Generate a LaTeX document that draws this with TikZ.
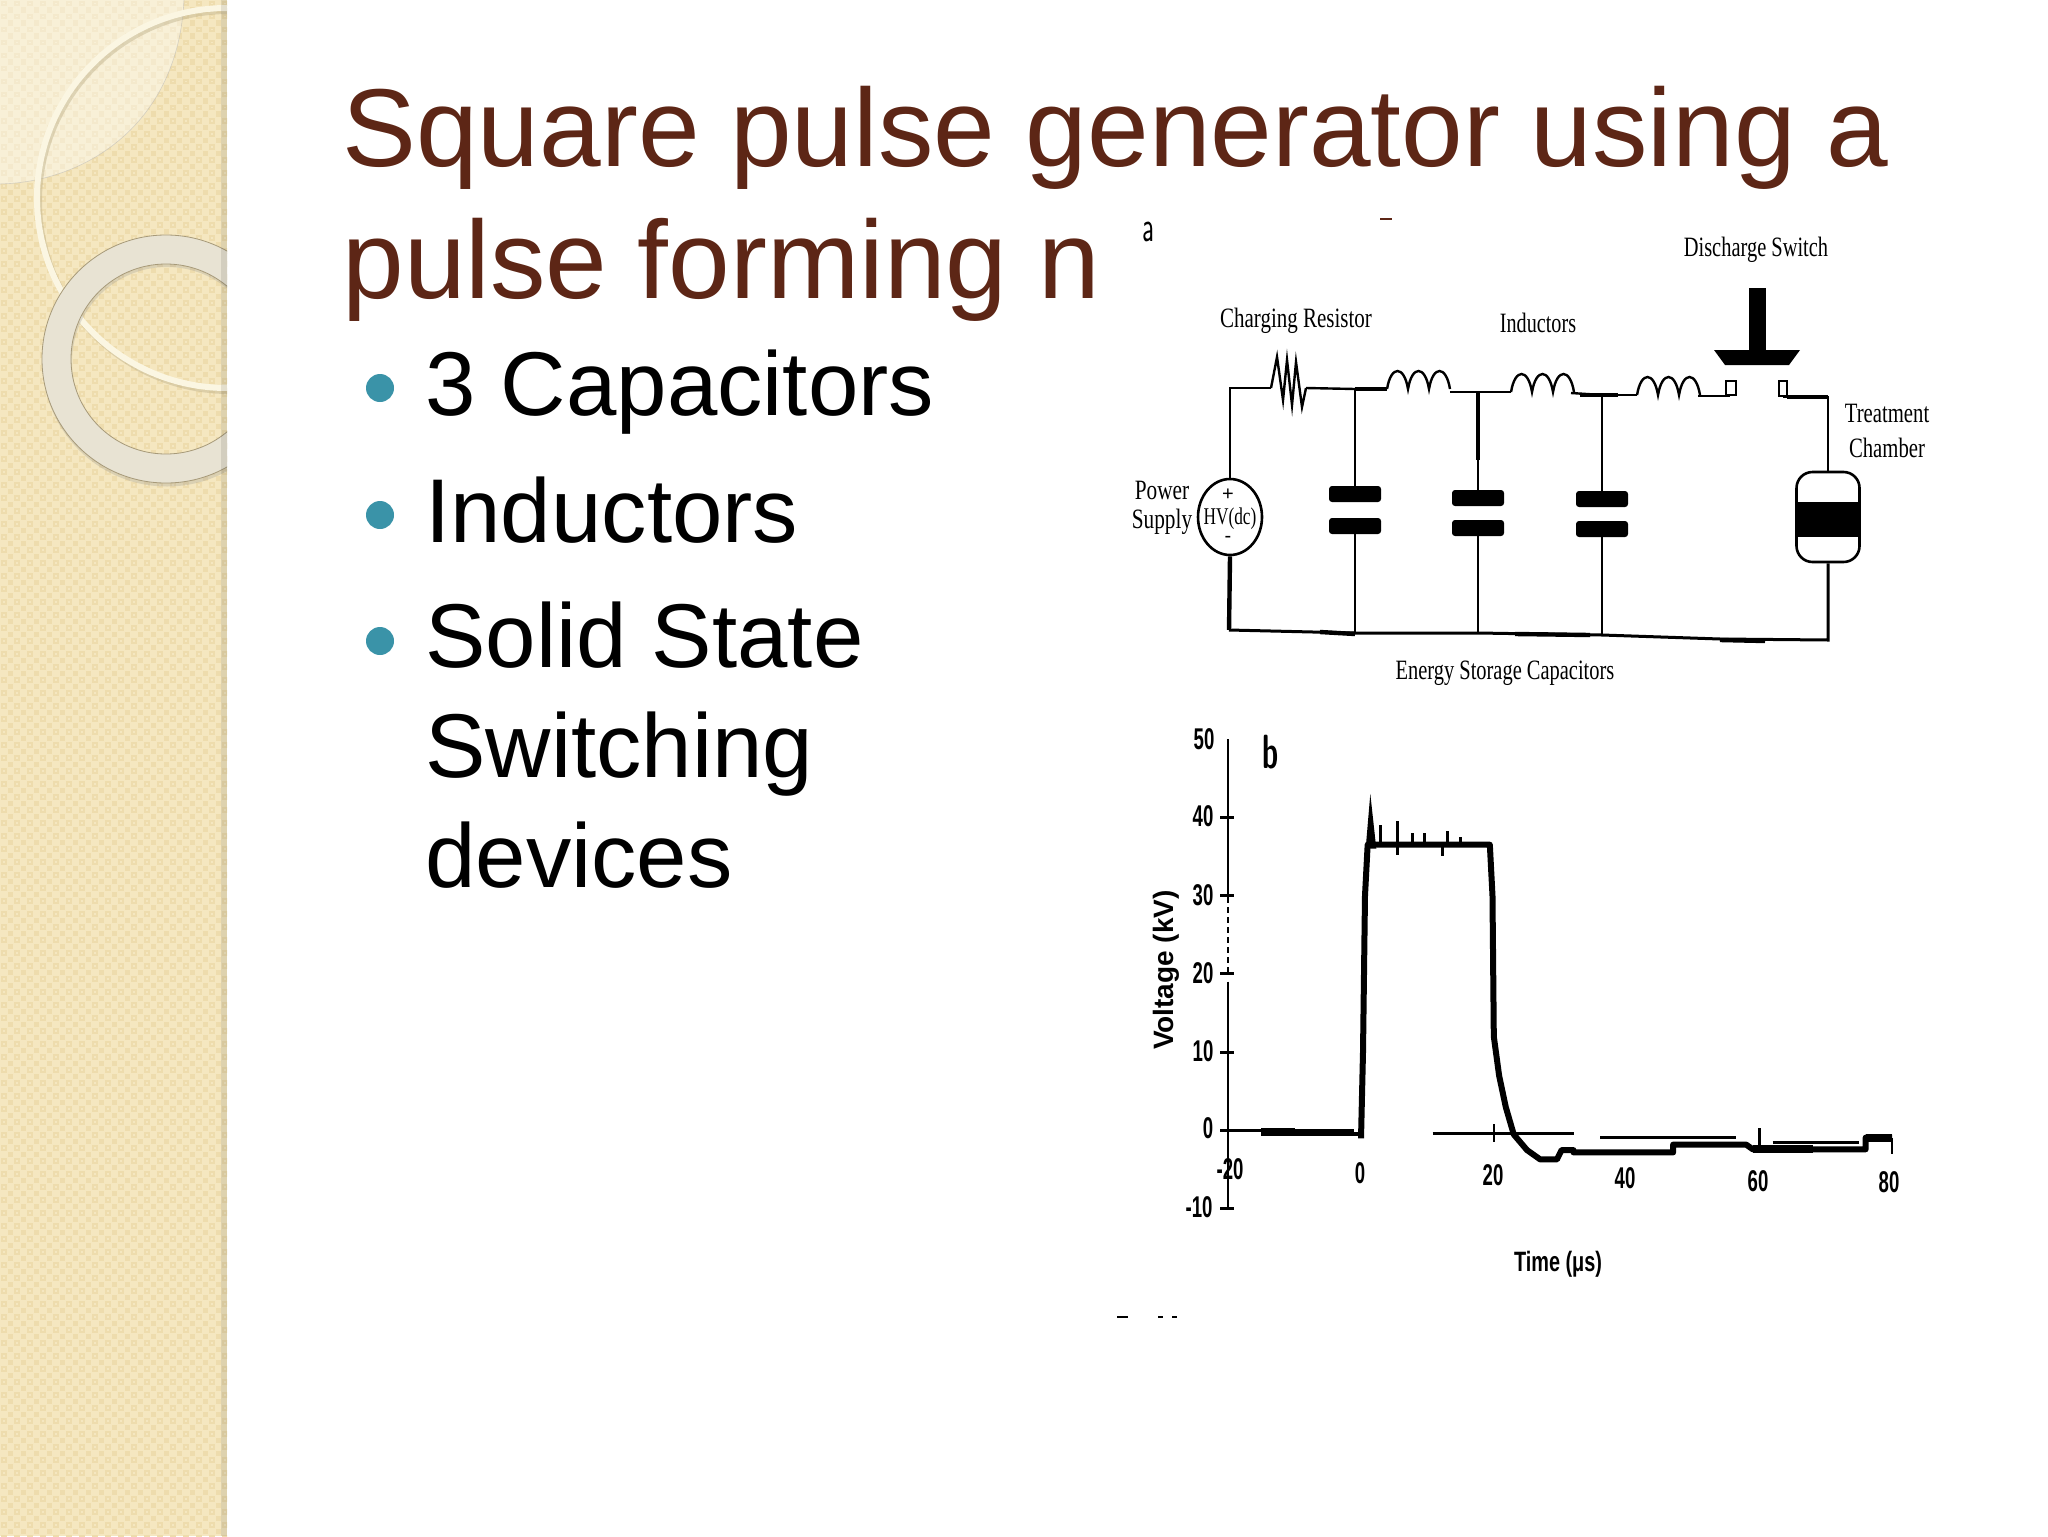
\documentclass[tikz,border=0pt]{standalone}
\usepackage{fontspec}
\setmainfont{Liberation Sans}
\newfontfamily\scanfont{Liberation Serif}
\usetikzlibrary{positioning,shapes.geometric,calc}
\definecolor{bandbase}{HTML}{F5E7C0}
\definecolor{banddark}{HTML}{EEDCAD}
\definecolor{ringcream}{HTML}{FBF6E2}
\definecolor{ringgrey}{HTML}{E8E3D3}
\definecolor{titlebrown}{HTML}{5D2616}
\definecolor{bullteal}{HTML}{3A93A8}
\tikzset{titletext/.style={anchor=base west,inner sep=0pt,text=titlebrown,font=\fontsize{55.4}{60}\selectfont}}
\tikzset{bodytext/.style={anchor=base west,inner sep=0pt,text=black,font=\fontsize{45.3}{50}\selectfont}}
\tikzset{bulletdot/.style={circle,fill=bullteal,inner sep=0pt,minimum size=14pt}}
\tikzset{scantext/.style={inner sep=0pt,font=\scanfont\fontsize{14}{16}\selectfont}}
\tikzset{plotnum/.style={inner sep=0pt,font=\bfseries\fontsize{15}{17}\selectfont}}
\tikzset{wire/.style={line width=1.2pt}}
\tikzset{heavywire/.style={line width=2.2pt}}
\tikzset{plate/.style={fill=black,rounded corners=1.5pt,inner sep=0pt,minimum width=26pt,minimum height=8pt}}
\tikzset{trace/.style={line width=3pt,line join=round}}
\newcommand{\narrow}[2]{\scalebox{#1}[1]{#2}}
\begin{document}
\begin{tikzpicture}[x=0.5pt,y=-0.5pt]
\useasboundingbox (0,0) rectangle (2048,1536);
\fill[bandbase] (0,0) rectangle (227,1536);
\begin{scope}
\clip (0,0) rectangle (227,1536);
\foreach \i in {0,...,17}
  \foreach \j in {0,...,118} {
    \fill[banddark] (\i*13+1,\j*13+1) rectangle +(5.5,5.5);
    \fill[banddark] (\i*13+7.5,\j*13+7.5) rectangle +(5.5,5.5);
    \fill[bandbase] (\i*13+3,\j*13+3) rectangle +(1.5,1.5);
  }
\fill[white,opacity=0.38] (0,0) -- (184,0) .. controls (178,125) and (85,182) .. (0,184) -- cycle;
\draw[black!30,opacity=0.5,line width=0.3pt] (184,0) .. controls (178,125) and (85,182) .. (0,184);
\draw[banddark!80!black,line width=3pt,opacity=0.45] (229,201) circle (190);
\draw[ringcream,line width=3pt] (227,198) circle (190);
\fill[black!45,opacity=0.25,even odd rule] (167,362) circle (124.5) (167,362) circle (95);
\fill[ringgrey,even odd rule,draw=banddark!70!black,line width=0.4pt] (166,359) circle (124) (166,359) circle (95);
\fill[black,opacity=0.09] (221,0) rectangle (227,1536);
\end{scope}
\node[titletext] (titleA) at (342,166) {Square pulse generator using a};
\node[titletext] (titleB) at (342,298) {pulse forming n};
\node[bulletdot] (dotA) at (380,388) {};
\node[bulletdot] (dotB) at (380,515) {};
\node[bulletdot] (dotC) at (380,641) {};
\node[bodytext] (itemA) at (425,415) {3 Capacitors};
\node[bodytext] (itemB) at (425,542) {Inductors};
\node[bodytext] (itemC) at (425,667) {Solid State};
\node[bodytext] (itemD) at (425,777) {Switching};
\node[bodytext] (itemE) at (425,887) {devices};
\node[scantext] (markA) at (1148,232) {\narrow{0.6}{\fontsize{22}{24}\selectfont\sffamily a}};
\node[scantext] (swLabel) at (1756,250) {\narrow{0.73}{Discharge Switch}};
\node[scantext] (resLabel) at (1296,321) {\narrow{0.75}{Charging Resistor}};
\node[scantext] (indLabel) at (1538,323) {\narrow{0.72}{Inductors}};
\node[scantext] (psLabelA) at (1162,490) {\narrow{0.76}{Power}};
\node[scantext] (psLabelB) at (1162,522) {\narrow{0.76}{Supply}};
\node[scantext] (chLabelA) at (1887,413) {\narrow{0.74}{Treatment}};
\node[scantext] (chLabelB) at (1887,448) {\narrow{0.74}{Chamber}};
\node[scantext] (capLabel) at (1505,673) {\narrow{0.73}{Energy Storage Capacitors}};
\node[draw,ellipse,line width=1.3pt,inner sep=0pt,minimum width=32pt,minimum height=38pt] (ps) at (1230,517) {};
\node[scantext] (psText) at (1230,519) {\narrow{0.72}{\fontsize{12}{13}\selectfont HV(dc)}};
\node[inner sep=0pt,font=\fontsize{10}{10}\selectfont] (psPlus) at (1228,495) {+};
\node[inner sep=0pt,font=\fontsize{10}{10}\selectfont] (psMinus) at (1228,539) {-};
\node[draw,rounded corners=8pt,line width=1.3pt,inner sep=0pt,minimum width=31.5pt,minimum height=45pt] (chamber) at (1828,517) {};
\fill[black] (1797,502) rectangle (1860,537);
\coordinate (resIn) at (1271,388);
\coordinate (resOut) at (1306,388);
\coordinate (jctA) at (1355,389);
\coordinate (indAin) at (1387,389);
\coordinate (indAout) at (1450,392);
\coordinate (jctB) at (1478,392);
\coordinate (indBin) at (1511,392);
\coordinate (indBout) at (1571,393);
\coordinate (jctC) at (1602,395);
\coordinate (indCin) at (1637,395);
\coordinate (indCout) at (1698,396);
\coordinate (swLeft) at (1730,396);
\coordinate (swRight) at (1783,397);
\coordinate (cornerR) at (1828,397);
\coordinate (botL) at (1229,630);
\coordinate (botA) at (1355,633);
\coordinate (botB) at (1478,633);
\coordinate (botC) at (1602,635);
\coordinate (botD) at (1720,639);
\coordinate (botR) at (1828,640);
\draw[wire] (ps.north) -- (ps.north |- resIn) -- (resIn);
\draw[wire] (resIn) -- (1277,357) -- (1283,400) -- (1287,360) -- (1292,405) -- (1296,362) -- (1302,407) -- (resOut);
\draw[wire] (resOut) -- (jctA);
\draw[heavywire] (jctA) -- (indAin);
\draw[wire] (indAout) -- (jctB) -- (indBin);
\draw[wire] (indBout) -- (jctC);
\draw[heavywire] (1580,395) -- (jctC) -- (1618,395);
\draw[wire] (jctC) -- (indCin);
\draw[wire] (indCout) -- (swLeft);
\draw[wire] (swRight) -- (cornerR) -- (chamber.north -| cornerR);
\draw[heavywire] (1787,397) -- (cornerR);
\foreach \indname in {A,B,C}
  \draw[wire] (ind\indname in) .. controls ++(4,-24) and ++(-4,-24) .. ++(21,0)
    .. controls ++(4,-24) and ++(-4,-24) .. ++(21,0)
    .. controls ++(4,-24) and ++(-4,-24) .. ++(21,0);
\foreach \capname/\yt/\yb in {A/494/526,B/498/528,C/499/529} {
  \node[plate] (cap\capname top) at (jct\capname |- 0,\yt) {};
  \node[plate] (cap\capname bot) at (jct\capname |- 0,\yb) {};
  \draw[wire] (jct\capname) -- (cap\capname top.north);
  \draw[wire] (cap\capname bot.south) -- (bot\capname);
}
\draw[heavywire] (jctB) -- (1478,460);
\draw[heavywire] (ps.south) -- (botL);
\draw[wire,line width=1.5pt] (botL) -- (botA) -- (botB) -- (botC) -- (botD) -- (botR) -- (chamber.south -| botR);
\draw[heavywire] (1320,632) -- (1355,634);
\draw[heavywire] (1515,634) -- (1590,635);
\draw[heavywire] (1720,640) -- (1765,641);
\draw[wire] (1726,381) rectangle (1736,395);
\draw[wire] (1779,381) rectangle (1787,396);
\fill[black] (1749,288) rectangle (1766,350);
\fill[black] (1714,350) -- (1800,350) -- (1789,365) -- (1725,365) -- cycle;
\fill[titlebrown] (1380,218) rectangle (1392,220);
\node[scantext] (markB) at (1271,752) {\narrow{0.6}{\bfseries\sffamily\fontsize{24}{26}\selectfont b}};
\foreach \val/\px/\py in {50/1204/739,40/1203/816,30/1203/895,20/1203/973,10/1203/1051,0/1208/1128,-10/1199/1207}
  \node[plotnum] (ylab\val) at (\px,\py) {\narrow{0.62}{\val}};
\foreach \val/\px/\py in {-20/1230/1169,0/1360/1173,20/1493/1175,40/1625/1178,60/1758/1181,80/1889/1182}
  \node[plotnum] (xlab\val) at (\px,\py) {\narrow{0.62}{\val}};
\node[inner sep=0pt,rotate=90,font=\bfseries\fontsize{14}{16}\selectfont] (yTitle) at (1166,970) {Voltage (kV)};
\node[inner sep=0pt,font=\bfseries\fontsize{14}{16}\selectfont] (xTitle) at (1558,1264) {\narrow{0.71}{Time (μs)}};
\fill[black] (1117,1316) rectangle (1128,1318);
\fill[black] (1158,1316) rectangle (1163,1318);
\fill[black] (1172,1316) rectangle (1177,1318);
\begin{scope}[shift={(1361,1130.5)},x=3.32pt,y=3.915pt]
\draw[wire] (-20,50) -- (-20,29);
\draw[wire] (-20,19) -- (-20,-10);
\foreach \v in {40,30,20,10,-10}
  \draw[wire,line width=1.5pt] (-21.2,\v) -- (-19.2,\v);
\draw[wire,densely dashed] (-20,28.5) -- (-20,20);
\draw[wire] (-21.2,0) -- (-1,0);
\draw[wire] (10.8,-0.4) -- (32,-0.4);
\draw[wire] (36,-0.9) -- (56.4,-0.9);
\draw[wire] (20,0.8) -- (20,-1.5);
\draw[wire] (60,0.3) -- (60,-2);
\draw[wire] (80,-1) -- (80,-3);
\draw[line width=4pt] (-15,-0.2) -- (-10,-0.2);
\draw[line width=2pt] (-10,-0.4) -- (0,-0.4);
\draw[trace] (0,-1) -- (0.3,10) -- (0.6,30) -- (1,36.5) -- (19.4,36.5) -- (19.8,30) -- (20,12) -- (20.8,7) -- (21.8,3) -- (23,-0.5) -- (25,-2.5) -- (27,-3.7) -- (29.5,-3.7) -- (30.2,-2.5) -- (32,-2.5) -- (32,-2.8) -- (47,-2.8) -- (47,-1.8) -- (58,-1.8) -- (59,-2.4) -- (76,-2.4) -- (76,-0.9) -- (80,-0.9);
\fill[black] (0.7,36) -- (1.4,43) -- (2.3,36) -- cycle;
\foreach \spx/\spy in {3/39,5.5/39.5,7.7/38,9.5/38,13/38.3,15/37.5}
  \draw[line width=1.5pt] (\spx,36.5) -- (\spx,\spy);
\draw[line width=1.5pt] (12.2,36.5) -- (12.2,35);
\draw[line width=1.5pt] (5.5,36.5) -- (5.5,35.2);
\draw[line width=4pt] (59,-2.4) -- (68,-2.4);
\draw[line width=1.4pt] (62,-1.5) -- (75,-1.5);
\draw[line width=4pt] (76,-0.9) -- (80,-0.9);
\end{scope}
\end{tikzpicture}
\end{document}
